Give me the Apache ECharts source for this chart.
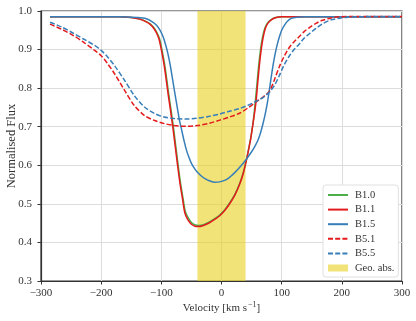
<!DOCTYPE html>
<html>
<head>
<meta charset="utf-8">
<script src="https://cdn.jsdelivr.net/npm/echarts@6/dist/echarts.min.js"></script>
<style>html,body{margin:0;padding:0;background:#fff}#c{width:416px;height:321px}</style>
</head>
<body>
<div id="c"></div>
<script>
// ---- data ----
const xTicks = [-300, -200, -100, 0, 100, 200, 300];
const yTicks = [0.3, 0.4, 0.5, 0.6, 0.7, 0.8, 0.9, 1.0];
const seriesNames = ['B1.0', 'B1.1', 'B1.5', 'B5.1', 'B5.5'];
const bandName = 'Geo. abs.';
const bandRange = [-40, 40];

const b10V = [-285,-200,-170,-150,-135,-124,-118,-112,-107,-103,-99,-96,-93,-88,-84,-80,-76,-72,-68,-64,-60,-55,-49,-43,-38,-30,-20,-10,-3,5,13,22,30,36,41,45,49,53,56,59,62,65,68,72,76,83,90,99,120,150,200,300];
const b10F = [0.985,0.985,0.985,0.983,0.979,0.972,0.966,0.956,0.943,0.928,0.900,0.875,0.846,0.788,0.745,0.700,0.650,0.600,0.553,0.515,0.480,0.463,0.450,0.445,0.444,0.446,0.453,0.463,0.471,0.484,0.501,0.524,0.552,0.580,0.612,0.642,0.675,0.717,0.762,0.812,0.862,0.902,0.931,0.955,0.968,0.978,0.983,0.985,0.985,0.985,0.985,0.985];

const b11V = [-285,-200,-170,-150,-136,-125,-119,-113,-108,-104,-100,-97,-94,-89,-85,-81,-77,-73,-69,-65,-61,-56,-50,-44,-39,-30,-20,-10,-3,5,13,22,30,36,41,45,49,53,57,60,63,66,69,73,77,84,91,100,120,150,200,300];
const b11F = [0.985,0.985,0.985,0.983,0.979,0.972,0.966,0.956,0.943,0.928,0.900,0.875,0.846,0.788,0.745,0.700,0.650,0.600,0.553,0.515,0.477,0.459,0.447,0.442,0.441,0.444,0.451,0.461,0.469,0.482,0.499,0.522,0.550,0.578,0.610,0.640,0.673,0.715,0.760,0.810,0.860,0.900,0.930,0.955,0.968,0.978,0.983,0.985,0.985,0.985,0.985,0.985];

const b15V = [-285,-170,-140,-125,-115,-108,-102,-97,-93,-89,-85,-81,-77,-73,-70,-66,-62,-58,-54,-50,-45,-40,-31,-22,-12,-3,8,15,22,30,41,50,55,60,64,68,72,76,80,84,88,92,96,100,105,110,116,125,140,200,300];
const b15F = [0.985,0.985,0.983,0.980,0.972,0.963,0.950,0.933,0.913,0.889,0.858,0.820,0.782,0.745,0.718,0.690,0.662,0.638,0.620,0.605,0.592,0.582,0.569,0.561,0.556,0.557,0.563,0.571,0.581,0.594,0.615,0.635,0.648,0.663,0.680,0.702,0.728,0.760,0.800,0.843,0.880,0.909,0.932,0.950,0.964,0.974,0.981,0.984,0.985,0.985,0.985];

const b51V = [-285,-265,-247,-230,-211,-200,-190,-178,-161,-145,-128,-111,-95,-78,-60,-40,-20,-3,13,30,46,60,70,80,88,96,104,113,121,129,137,146,157,168,182,196,220,250,300];
const b51F = [0.966,0.952,0.937,0.920,0.898,0.884,0.865,0.838,0.794,0.755,0.729,0.716,0.708,0.703,0.701,0.703,0.709,0.717,0.725,0.735,0.751,0.767,0.778,0.793,0.822,0.855,0.882,0.906,0.921,0.933,0.946,0.957,0.968,0.976,0.982,0.985,0.986,0.986,0.986];

const b55V = [-285,-265,-247,-230,-211,-200,-190,-178,-161,-145,-128,-111,-95,-78,-60,-40,-20,-3,13,30,46,60,70,80,88,96,104,113,121,129,137,146,157,168,182,196,210,230,260,300];
const b55F = [0.971,0.958,0.943,0.928,0.911,0.898,0.882,0.859,0.820,0.781,0.751,0.734,0.725,0.721,0.720,0.722,0.727,0.733,0.740,0.747,0.757,0.768,0.777,0.790,0.807,0.832,0.860,0.884,0.901,0.914,0.929,0.941,0.955,0.967,0.977,0.981,0.984,0.985,0.986,0.986];

// ---- styling ----
const FONT = 'Liberation Serif';
const colors = ['#4daf4a', '#e41a1c', '#377eb8', '#e41a1c', '#377eb8'];
const dashed = [false, false, false, true, true];
const bandColor = 'rgba(232,208,30,0.6)';

const pairs = (v, f) => v.map((x, i) => [x, f[i]]);
const dataSets = [pairs(b10V, b10F), pairs(b11V, b11F), pairs(b15V, b15F), pairs(b51V, b51F), pairs(b55V, b55F)];

const series = seriesNames.map((n, i) => ({
  name: n, type: 'line', data: dataSets[i], showSymbol: false, symbol: 'none',
  smooth: 0.3, z: 3 + i,
  lineStyle: { color: colors[i], width: 1.5, type: dashed[i] ? [5, 2.2] : 'solid' },
  itemStyle: { color: colors[i] }
}));
series.unshift({
  name: bandName, type: 'line', data: [], symbol: 'none', z: 2,
  itemStyle: { color: bandColor },
  lineStyle: { width: 0 },
  markArea: { silent: true, itemStyle: { color: bandColor }, data: [[{ xAxis: bandRange[0] }, { xAxis: bandRange[1] }]] }
});

const axisCol = '#333';
const option = {
  animation: false,
  backgroundColor: '#fff',
  grid: { left: 41, right: 14, top: 11, bottom: 40, outerBoundsMode: 'none', containLabel: false,
    show: true, borderColor: axisCol, borderWidth: 1.2, backgroundColor: 'transparent' },
  xAxis: {
    type: 'value', min: xTicks[0], max: xTicks[xTicks.length - 1], interval: 100,
    name: 'Velocity [km s{sup|−1}]', nameLocation: 'middle', nameGap: 20, nameMoveOverlap: false,
    nameTextStyle: { fontFamily: FONT, fontSize: 11, color: '#333',
      rich: { sup: { fontFamily: FONT, fontSize: 8, color: '#333', padding: [0, 0, 7, 1] } } },
    axisLine: { show: true, onZero: false, lineStyle: { color: axisCol, width: 1.2 } },
    axisTick: { show: true, inside: false, length: 3.5, lineStyle: { color: axisCol, width: 1 } },
    axisLabel: { fontFamily: FONT, fontSize: 11, color: '#333', margin: 7,
      formatter: v => (v < 0 ? '\u2212' + Math.abs(v) : String(v)) },
    splitLine: { show: true, lineStyle: { color: '#dcdcdc', width: 1 } }
  },
  yAxis: {
    type: 'value', min: yTicks[0], max: yTicks[yTicks.length - 1], interval: 0.1,
    name: 'Normalised Flux', nameLocation: 'middle', nameGap: 23, nameRotate: 90, nameMoveOverlap: false,
    nameTextStyle: { fontFamily: FONT, fontSize: 12.5, color: '#333' },
    axisLine: { show: true, onZero: false, lineStyle: { color: axisCol, width: 1.2 } },
    axisTick: { show: true, inside: false, length: 3.5, lineStyle: { color: axisCol, width: 1 } },
    axisLabel: { fontFamily: FONT, fontSize: 11, color: '#333', margin: 9,
      formatter: v => v.toFixed(1) },
    splitLine: { show: true, lineStyle: { color: '#dcdcdc', width: 1 } }
  },
  legend: {
    orient: 'vertical', left: 323, top: 185,
    padding: [4, 4, 3, 4], itemGap: 2.6, itemWidth: 20, itemHeight: 7,
    backgroundColor: '#fff', borderColor: '#e0e0e0', borderWidth: 1, borderRadius: 3,
    itemStyle: { opacity: 0 },
    textStyle: { fontFamily: FONT, fontSize: 10.5, color: '#333', lineHeight: 12, padding: [0, 0, 0, 2] },
    data: seriesNames.map(n => ({ name: n })).concat([{ name: bandName, icon: 'rect', itemStyle: { color: bandColor, opacity: 1 } }])
  },
  series: series
};
const chart = echarts.init(document.getElementById('c'), null, { renderer: 'canvas' });
chart.setOption(option);
</script>
</body>
</html>
